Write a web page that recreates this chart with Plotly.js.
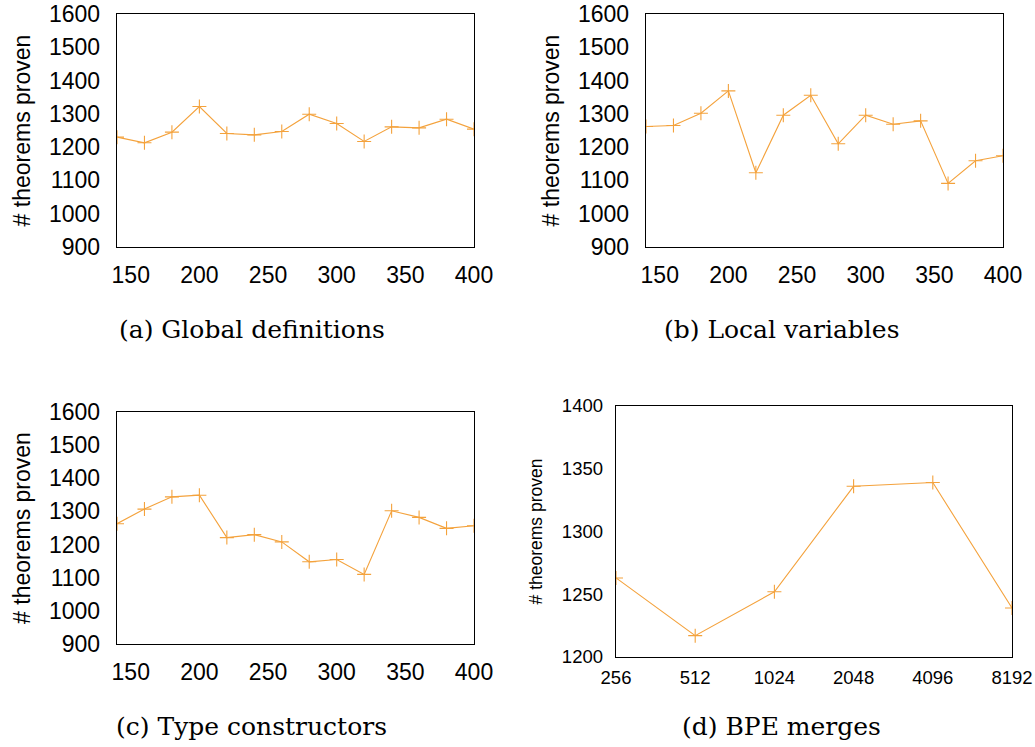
<!DOCTYPE html>
<html>
<head>
<meta charset="utf-8">
<script src="https://cdn.plot.ly/plotly-3.0.1.min.js"></script>
<style>html,body{margin:0;padding:0;background:#fff;}#chart{width:1035px;height:747px;}</style>
</head>
<body>
<div id="chart"></div>
<script>
// ---- data ----
const sizes = [140, 160, 180, 200, 220, 240, 260, 280, 300, 320, 340, 360, 380, 400];
const globalDefinitions = [1230, 1213, 1245, 1322, 1241, 1237, 1247, 1299, 1271, 1217, 1261, 1258, 1284, 1254];
const localVariables = [1262, 1265, 1302, 1369, 1123, 1296, 1356, 1210, 1296, 1269, 1279, 1091, 1159, 1174];
const typeConstructors = [1263, 1307, 1344, 1349, 1221, 1230, 1208, 1148, 1155, 1110, 1302, 1282, 1249, 1257];
const bpeMerges = ["256", "512", "1024", "2048", "4096", "8192"];
const bpeTheorems = [1263, 1217, 1252, 1336, 1339, 1239];
const captions = ["(a) Global definitions", "(b) Local variables", "(c) Type constructors", "(d) BPE merges"];
const yTitle = "# theorems proven";

// ---- layout helpers ----
const W = 1035, H = 747;
const orange = "#f4a23c";
const dx = (a, b) => [a / W, b / W];
const dy = (top, bottom) => [1 - bottom / H, 1 - top / H];
const sans = "'Liberation Sans', Arial, sans-serif";

function lineTrace(x, y, xa, ya) {
  return {
    x: x, y: y, xaxis: xa, yaxis: ya, type: "scatter", mode: "lines+markers",
    line: {color: orange, width: 1.1},
    marker: {symbol: "cross-thin", size: 10, color: orange, line: {color: orange, width: 1.1}},
    showlegend: false, hoverinfo: "x+y"
  };
}

const data = [
  lineTrace(sizes, globalDefinitions, "x", "y"),
  lineTrace(sizes, localVariables, "x2", "y2"),
  lineTrace(sizes, typeConstructors, "x3", "y3"),
  lineTrace(bpeMerges, bpeTheorems, "x4", "y4")
];

function xAx(domain, anchor, extra) {
  return Object.assign({
    domain: domain, anchor: anchor, showline: true, mirror: true, linecolor: "#000", linewidth: 1.3,
    showgrid: false, zeroline: false, ticks: "", tickfont: {family: sans, size: 23, color: "#000"},
    ticklabelstandoff: 7
  }, extra);
}
function yAx(domain, anchor, extra) {
  return Object.assign({
    domain: domain, anchor: anchor, showline: true, mirror: true, linecolor: "#000", linewidth: 1.3,
    showgrid: false, zeroline: false, ticks: "", tickfont: {family: sans, size: 23, color: "#000"},
    ticklabelstandoff: 11,
    title: {text: yTitle, font: {family: sans, size: 23, color: "#000"}, standoff: 12}
  }, extra);
}
const numX = {range: [140, 400], tickmode: "linear", tick0: 0, dtick: 50};
const numY = {range: [900, 1600], tickmode: "linear", tick0: 900, dtick: 100};

const layout = {
  width: W, height: H, margin: {l: 0, r: 0, t: 0, b: 0},
  paper_bgcolor: "#fff", plot_bgcolor: "#fff", showlegend: false,
  xaxis: xAx(dx(117, 474), "y", numX),
  yaxis: yAx(dy(14, 247), "x", numY),
  xaxis2: xAx(dx(646, 1003), "y2", numX),
  yaxis2: yAx(dy(14, 247), "x2", numY),
  xaxis3: xAx(dx(117, 474), "y3", numX),
  yaxis3: yAx(dy(412, 644), "x3", numY),
  xaxis4: xAx(dx(616, 1012), "y4", {type: "category", range: [0, 5], tickfont: {family: sans, size: 18.5, color: "#000"}, ticklabelstandoff: 3}),
  yaxis4: yAx(dy(406, 657), "x4", {range: [1200, 1400], tickmode: "linear", tick0: 1200, dtick: 50,
    tickfont: {family: sans, size: 18.5, color: "#000"}, ticklabelstandoff: 8,
    title: {text: yTitle, font: {family: sans, size: 17.5, color: "#000"}, standoff: 14}}),
  annotations: [
    [252, 330, captions[0]], [781, 330, captions[1]], [251, 726, captions[2]], [781, 726, captions[3]]
  ].map(c => ({
    x: c[0] / W, y: 1 - c[1] / H, xref: "paper", yref: "paper", text: c[2], showarrow: false,
    xanchor: "center", yanchor: "middle", font: {family: "DejaVu Serif, serif", size: 25, color: "#000"}
  }))
};

Plotly.newPlot("chart", data, layout, {displayModeBar: false, staticPlot: true});
</script>
</body>
</html>
